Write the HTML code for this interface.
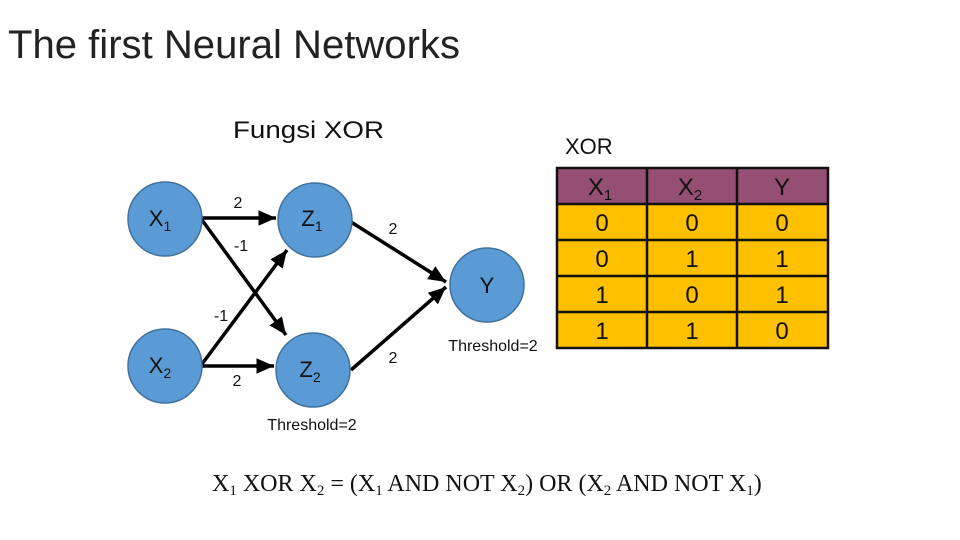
<!DOCTYPE html>
<html><head><style>
body{margin:0;width:960px;height:540px;background:#fff;overflow:hidden;font-family:"Liberation Sans",sans-serif}
svg{position:absolute;left:0;top:0}
</style></head><body>
<svg width="960" height="540" xmlns="http://www.w3.org/2000/svg" font-family="Liberation Sans, sans-serif">
<defs><marker id="a" markerWidth="6" markerHeight="6" refX="5" refY="3" orient="auto" markerUnits="strokeWidth"><path d="M0,0.8 L5,3 L0,5.2Z" fill="#000"/></marker></defs>
<text x="8" y="58" font-size="40" fill="#222" textLength="452" lengthAdjust="spacingAndGlyphs">The first Neural Networks</text>
<text x="233" y="138" font-size="24" fill="#111" textLength="151" lengthAdjust="spacingAndGlyphs">Fungsi XOR</text>
<text x="565" y="154" font-size="22" fill="#111">XOR</text>
<g stroke="#000" stroke-width="3.5" fill="none" marker-end="url(#a)">
<line x1="202" y1="218" x2="276" y2="218"/>
<line x1="202" y1="220" x2="286" y2="335"/>
<line x1="202" y1="364" x2="287" y2="250"/>
<line x1="202" y1="366" x2="274" y2="366"/>
<line x1="351" y1="222" x2="446" y2="282"/>
<line x1="351" y1="370" x2="446" y2="287"/>
</g>
<g fill="#5b9bd5" stroke="#41719c" stroke-width="1.5">
<circle cx="165" cy="219" r="37"/><circle cx="315" cy="220" r="37"/>
<circle cx="165" cy="366" r="37"/><circle cx="313" cy="370" r="37"/>
<circle cx="487" cy="285" r="37"/>
</g>
<g font-size="22" fill="#111" text-anchor="middle">
<text x="160" y="226">X<tspan font-size="14" dy="5">1</tspan></text>
<text x="312" y="226">Z<tspan font-size="14" dy="5">1</tspan></text>
<text x="160" y="373">X<tspan font-size="14" dy="5">2</tspan></text>
<text x="310" y="377">Z<tspan font-size="14" dy="5">2</tspan></text>
<text x="487" y="293">Y</text>
</g>
<g font-size="16" fill="#111" text-anchor="middle">
<text x="238" y="208">2</text><text x="241" y="251">-1</text>
<text x="221" y="321">-1</text><text x="237" y="386">2</text>
<text x="393" y="234">2</text><text x="393" y="363">2</text>
<text x="493" y="351">Threshold=2</text><text x="312" y="430">Threshold=2</text>
</g>
<rect x="557" y="168" width="271" height="36" fill="#954f72"/>
<rect x="557" y="204" width="271" height="144" fill="#ffc000"/>
<g stroke="#111" stroke-width="2.5">
<rect x="557" y="168" width="271" height="180" fill="none"/>
<line x1="647" y1="168" x2="647" y2="348"/><line x1="737" y1="168" x2="737" y2="348"/>
<line x1="557" y1="204" x2="828" y2="204"/><line x1="557" y1="240" x2="828" y2="240"/>
<line x1="557" y1="276" x2="828" y2="276"/><line x1="557" y1="312" x2="828" y2="312"/>
</g>
<g font-size="24" fill="#111" text-anchor="middle">
<text x="600" y="195">X<tspan font-size="15" dy="5">1</tspan></text>
<text x="690" y="195">X<tspan font-size="15" dy="5">2</tspan></text>
<text x="782" y="195">Y</text>
<text x="602" y="231">0</text><text x="692" y="231">0</text><text x="782" y="231">0</text>
<text x="602" y="267">0</text><text x="692" y="267">1</text><text x="782" y="267">1</text>
<text x="602" y="303">1</text><text x="692" y="303">0</text><text x="782" y="303">1</text>
<text x="602" y="339">1</text><text x="692" y="339">1</text><text x="782" y="339">0</text>
</g>
<text x="212" y="491" font-family="Liberation Serif, serif" font-size="24" fill="#111">X<tspan font-size="15" dy="4">1</tspan><tspan dy="-4"> XOR X</tspan><tspan font-size="15" dy="4">2</tspan><tspan dy="-4"> = (X</tspan><tspan font-size="15" dy="4">1</tspan><tspan dy="-4"> AND NOT X</tspan><tspan font-size="15" dy="4">2</tspan><tspan dy="-4">) OR (X</tspan><tspan font-size="15" dy="4">2</tspan><tspan dy="-4"> AND NOT X</tspan><tspan font-size="15" dy="4">1</tspan><tspan dy="-4">)</tspan></text>
</svg>
</body></html>
